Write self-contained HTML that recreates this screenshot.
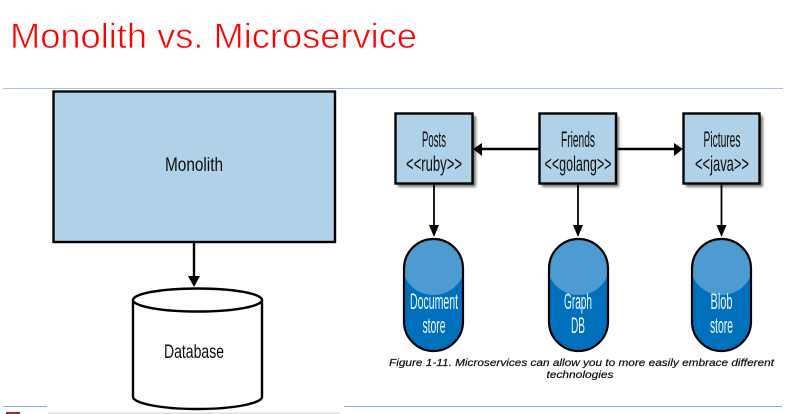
<!DOCTYPE html>
<html>
<head>
<meta charset="utf-8">
<style>
html,body{margin:0;padding:0;background:#fff;width:808px;height:414px;overflow:hidden}
svg{display:block}
text{font-family:"Liberation Sans",sans-serif}
</style>
</head>
<body>
<svg width="808" height="414" viewBox="0 0 808 414" xmlns="http://www.w3.org/2000/svg">
<defs>
<filter id="b" x="-5%" y="-5%" width="110%" height="110%"><feGaussianBlur stdDeviation="0.35"/></filter>
<filter id="t" x="-5%" y="-20%" width="110%" height="140%"><feGaussianBlur stdDeviation="0.25"/></filter>
<filter id="s" x="-10%" y="-10%" width="125%" height="125%"><feGaussianBlur stdDeviation="1.2"/></filter>
<filter id="g" x="-5%" y="-100%" width="110%" height="300%"><feGaussianBlur stdDeviation="0.8"/></filter>
<clipPath id="c1"><rect x="404" y="239" width="59" height="112" rx="29.5"/></clipPath>
<clipPath id="c2"><rect x="549" y="239" width="59" height="112" rx="29.5"/></clipPath>
<clipPath id="c3"><rect x="692" y="239" width="59" height="112" rx="29.5"/></clipPath>
</defs>

<text x="10" y="48" font-size="35" fill="#ff0000" stroke="#fff" stroke-width="0.7" paint-order="fill" textLength="407" lengthAdjust="spacingAndGlyphs">Monolith vs. Microservice</text>

<rect x="3" y="88" width="780" height="1" fill="#a5c4e3"/>
<rect x="3" y="406" width="44" height="1" fill="#7db2e3"/>
<rect x="344" y="406" width="438" height="1" fill="#7db2e3"/>

<rect x="6" y="412" width="14" height="2" fill="#a8272d"/>
<rect x="48" y="413" width="292" height="1" fill="#bbb" filter="url(#g)"/>

<g filter="url(#b)">
<rect x="53.500" y="91.500" width="281.500" height="150.500" fill="#b0d2e9" stroke="#000" stroke-width="2.400"/>
<line x1="194" y1="243" x2="194" y2="276" stroke="#000" stroke-width="2.400"/>
<polygon points="188,276 200,276 194,287" fill="#000"/>
<path d="M133,300 V397 C133,403 160,409 197.500,409 C235,409 262,403 262,397 V300" fill="#fff" stroke="#000" stroke-width="2.400"/>
<ellipse cx="197.500" cy="300" rx="64.500" ry="11.500" fill="#fff" stroke="#000" stroke-width="2.400"/>
</g>

<g filter="url(#s)" fill="#555" opacity="0.8">
<rect x="398" y="116" width="78" height="71"/>
<rect x="542" y="116" width="77" height="71"/>
<rect x="686" y="116" width="77" height="71"/>
</g>

<g filter="url(#b)">
<line x1="539" y1="149" x2="482" y2="149" stroke="#000" stroke-width="2.400"/>
<polygon points="473,149 482,143 482,156" fill="#000"/>
<line x1="616" y1="149" x2="674" y2="149" stroke="#000" stroke-width="2.400"/>
<polygon points="683,149 674,143 674,156" fill="#000"/>

<rect x="395.500" y="113.500" width="77" height="70" fill="#b0d2e9" stroke="#000" stroke-width="2.400"/>
<rect x="539.500" y="113.500" width="76.500" height="70" fill="#b0d2e9" stroke="#000" stroke-width="2.400"/>
<rect x="683.500" y="113.500" width="76" height="70" fill="#b0d2e9" stroke="#000" stroke-width="2.400"/>

<line x1="434" y1="184" x2="434" y2="226" stroke="#000" stroke-width="1.800"/>
<polygon points="429,225 439,225 434,237" fill="#000"/>
<line x1="578" y1="184" x2="578" y2="226" stroke="#000" stroke-width="1.800"/>
<polygon points="573,225 583,225 578,237" fill="#000"/>
<line x1="721.500" y1="184" x2="721.500" y2="226" stroke="#000" stroke-width="1.800"/>
<polygon points="716.500,225 726.500,225 721.500,237" fill="#000"/>

<rect x="404" y="239" width="59" height="112" rx="29.500" fill="#0670bc"/>
<rect x="549" y="239" width="59" height="112" rx="29.500" fill="#0670bc"/>
<rect x="692" y="239" width="59" height="112" rx="29.500" fill="#0670bc"/>
<ellipse cx="433.500" cy="265" rx="31" ry="30" fill="#4d9bd0" clip-path="url(#c1)"/>
<ellipse cx="578.500" cy="265" rx="31" ry="30" fill="#4d9bd0" clip-path="url(#c2)"/>
<ellipse cx="721.500" cy="265" rx="31" ry="30" fill="#4d9bd0" clip-path="url(#c3)"/>
<rect x="404" y="239" width="59" height="112" rx="29.500" fill="none" stroke="#000" stroke-width="2.200"/>
<rect x="549" y="239" width="59" height="112" rx="29.500" fill="none" stroke="#000" stroke-width="2.200"/>
<rect x="692" y="239" width="59" height="112" rx="29.500" fill="none" stroke="#000" stroke-width="2.200"/>
</g>

<g filter="url(#t)" fill="#111" text-anchor="middle">
<text x="194" y="171" font-size="19" textLength="58" lengthAdjust="spacingAndGlyphs">Monolith</text>
<text x="194" y="358" font-size="19" textLength="60" lengthAdjust="spacingAndGlyphs">Database</text>
<text x="434" y="147" font-size="22" textLength="24" lengthAdjust="spacingAndGlyphs">Posts</text>
<text x="434" y="171" font-size="21" textLength="56" lengthAdjust="spacingAndGlyphs">&lt;&lt;ruby&gt;&gt;</text>
<text x="578" y="147" font-size="22" textLength="34" lengthAdjust="spacingAndGlyphs">Friends</text>
<text x="578" y="171" font-size="21" textLength="67" lengthAdjust="spacingAndGlyphs">&lt;&lt;golang&gt;&gt;</text>
<text x="722" y="147" font-size="22" textLength="37" lengthAdjust="spacingAndGlyphs">Pictures</text>
<text x="722" y="171" font-size="21" textLength="54" lengthAdjust="spacingAndGlyphs">&lt;&lt;java&gt;&gt;</text>
</g>

<g filter="url(#t)" fill="#eef6fc" text-anchor="middle">
<text x="434" y="309" font-size="22" textLength="48" lengthAdjust="spacingAndGlyphs">Document</text>
<text x="434" y="333" font-size="22" textLength="23" lengthAdjust="spacingAndGlyphs">store</text>
<text x="578" y="309" font-size="22" textLength="28" lengthAdjust="spacingAndGlyphs">Graph</text>
<text x="578" y="333" font-size="22" textLength="14" lengthAdjust="spacingAndGlyphs">DB</text>
<text x="721.500" y="309" font-size="22" textLength="22" lengthAdjust="spacingAndGlyphs">Blob</text>
<text x="721.500" y="333" font-size="22" textLength="23" lengthAdjust="spacingAndGlyphs">store</text>
</g>

<g filter="url(#t)" fill="#0c0c18" stroke="#0c0c18" stroke-width="0.2" font-size="10" font-style="italic">
<text x="389" y="366" textLength="385" lengthAdjust="spacingAndGlyphs">Figure 1-11. Microservices can allow you to more easily embrace different</text>
<text x="580" y="378" text-anchor="middle" textLength="67" lengthAdjust="spacingAndGlyphs">technologies</text>
</g>
</svg>
</body>
</html>
